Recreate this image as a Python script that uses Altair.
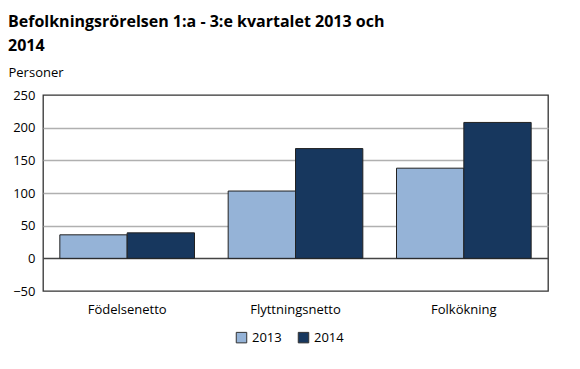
import altair as alt
import pandas as pd

categories = ["Födelsenetto", "Flyttningsnetto", "Folkökning"]
years = ["2013", "2014"]
values_2013 = [36, 103, 138]
values_2014 = [39, 168, 208]
y_ticks = [-50, 0, 50, 100, 150, 200, 250]

rows = []
for c, v in zip(categories, values_2013):
    rows.append({"kategori": c, "år": "2013", "värde": v})
for c, v in zip(categories, values_2014):
    rows.append({"kategori": c, "år": "2014", "värde": v})
df = pd.DataFrame(rows)

FONT = "Open Sans"

x = alt.X("kategori:N", sort=categories,
          scale=alt.Scale(paddingInner=0.2, paddingOuter=0.1),
          axis=alt.Axis(title=None, labelAngle=0, ticks=False, domain=False,
                        labelFontSize=13, labelColor="#000", labelFont=FONT,
                        labelPadding=12))

chart = alt.Chart(df).mark_bar(stroke="#222", strokeWidth=1).encode(
    x=x,
    xOffset=alt.XOffset("år:N", sort=years),
    y=alt.Y("värde:Q", scale=alt.Scale(domain=[-50, 250], nice=False),
            axis=alt.Axis(values=y_ticks, tickCount=len(y_ticks),
                          title="Personer", titleAngle=0,
                          titleX=-35, titleY=-16, titleAlign="left",
                          titleFontWeight="normal", titleFontSize=13,
                          titleFont=FONT, titleColor="#000",
                          labelFontSize=13, labelFont=FONT, labelColor="#000",
                          labelOverlap=False,
                          ticks=False, domain=False, labelPadding=8,
                          gridColor=alt.condition("datum.value == 0",
                                                  alt.value("#444"),
                                                  alt.value("#b0b0b0")),
                          gridOpacity=alt.condition(
                              "datum.value == 250 || datum.value == -50",
                              alt.value(0), alt.value(1)),
                          gridWidth=1.5)),
    color=alt.Color("år:N", sort=years,
                    scale=alt.Scale(domain=years, range=["#95B3D7", "#17375E"]),
                    legend=alt.Legend(title=None, orient="none",
                                      legendX=192, legendY=236,
                                      direction="horizontal",
                                      symbolType="square", symbolSize=110,
                                      symbolStrokeColor="#333",
                                      symbolStrokeWidth=1,
                                      labelFontSize=13, labelFont=FONT,
                                      labelColor="#000", columnPadding=14)),
).properties(
    width=505, height=196,
    autosize=alt.AutoSizeParams(type="none"),
    padding={"left": 35, "top": 87, "right": 16, "bottom": 60},
    title=alt.Title("Befolkningsrörelsen 1:a - 3:e kvartalet 2013 och",
                    subtitle="2014", anchor="start", frame="group",
                    dx=-35, offset=12, font=FONT, fontSize=16,
                    fontWeight="bold", color="#000",
                    subtitleFont=FONT, subtitleFontSize=16,
                    subtitleFontWeight="bold", subtitleColor="#000",
                    subtitlePadding=8),
).configure(background="white").configure_view(stroke="#333", strokeWidth=1.3)

chart.save("out.html", embed_options={"renderer": "svg", "actions": False})
